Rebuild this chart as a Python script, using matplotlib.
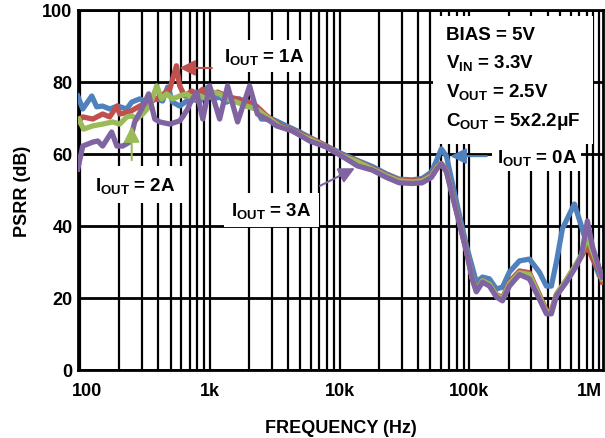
import matplotlib
matplotlib.use("Agg")
import matplotlib.pyplot as plt
import matplotlib.transforms as mtransforms
from matplotlib.ticker import FixedLocator, LogLocator, NullFormatter

plt.rcParams['font.family'] = ['Liberation Sans', 'DejaVu Sans']
plt.rcParams['font.weight'] = 'bold'
plt.rcParams['mathtext.fontset'] = 'custom'
plt.rcParams['mathtext.rm'] = 'Liberation Sans:bold'
plt.rcParams['mathtext.bf'] = 'Liberation Sans:bold'
plt.rcParams['mathtext.it'] = 'Liberation Sans:bold'

# PSRR vs frequency
f_0a = [96.5, 105.5, 123.7, 135, 150, 170, 196, 230, 251, 289, 327, 391, 434, 475, 519,
        588, 665, 740, 837, 965, 1055, 1193, 1350, 1500, 1697, 1920, 2290, 2500, 3030,
        3900, 4920, 6200, 7940, 10500, 14200, 17900, 22900, 28700, 36200, 43300, 51000,
        56400, 60700, 66500, 79400, 94900, 113000, 126000, 142500, 161000, 179500,
        203000, 242500, 289500, 345000, 391000, 427000, 467000, 519000, 642000, 727000,
        767000, 838000, 1000000, 1054000]
db_0a = [76.1, 72.5, 76.1, 73.1, 73.3, 72.5, 73.3, 72.5, 74.4, 75.3, 74.4, 75.3, 74.7,
         78.6, 74.4, 73.3, 74.7, 75.3, 74.4, 78.6, 75.3, 75.8, 74.4, 75.3, 75.3, 73.3,
         72.5, 69.7, 69.7, 67.8, 66.1, 64.2, 62.2, 60.0, 58.0, 56.5, 54.5, 53.0, 52.8,
         53.2, 55.0, 58.6, 61.4, 59.4, 46.7, 34.4, 24.4, 25.8, 25.3, 22.5, 23.0, 27.2,
         30.3, 30.8, 27.2, 23.3, 23.3, 30.0, 39.2, 46.1, 40.0, 37.2, 33.6, 26.1, 25.3]

f_1a = [96.5, 105.5, 125.9, 150, 170, 193, 203, 242, 289, 345, 412, 493, 555, 588, 643,
        728, 794, 885, 1000, 1150, 1350, 1610, 1920, 2290, 2750, 3450, 4330, 5200, 6650,
        8420, 10500, 13400, 17900, 22900, 28700, 36200, 43300, 51000, 56400, 60700,
        66500, 79400, 94900, 105000, 113000, 126000, 142500, 161000, 179500, 203000,
        242500, 289500, 345000, 391000, 427000, 467000, 557000, 666000, 727000, 809000,
        883000, 1000000, 1054000]
db_1a = [68.9, 70.3, 69.7, 71.1, 70.3, 73.3, 71.1, 71.7, 73.3, 74.4, 75.8, 78.0, 84.5,
         78.9, 76.1, 77.5, 76.7, 78.0, 76.1, 77.2, 76.1, 75.3, 74.7, 73.3, 70.6, 68.0,
         66.6, 65.3, 63.6, 61.6, 59.6, 58.2, 56.0, 54.1, 52.8, 52.5, 52.8, 54.2, 56.6,
         57.4, 55.5, 44.5, 33.0, 25.5, 22.0, 24.8, 23.8, 21.0, 20.0, 24.5, 27.5, 27.0,
         21.0, 16.5, 16.5, 21.0, 25.0, 29.5, 31.5, 34.4, 31.0, 27.5, 24.4]

f_2a = [98.2, 107, 125.9, 150, 179, 203, 230, 251, 275, 305, 345, 391, 427, 466, 519,
        588, 665, 740, 837, 950, 1055, 1193, 1350, 1610, 1920, 2290, 2750, 3450, 4330,
        5200, 6650, 8420, 10500, 13400, 17900, 22900, 28700, 36200, 43300, 51000, 56400,
        60700, 66500, 79400, 94900, 105000, 113000, 126000, 142500, 161000, 179500,
        203000, 242500, 289500, 345000, 391000, 427000, 467000, 557000, 666000, 727000,
        809000, 883000, 1000000, 1054000]
db_2a = [69.7, 66.9, 67.8, 68.3, 68.9, 68.3, 70.3, 70.6, 69.7, 71.1, 73.3, 78.9, 75.3,
         76.7, 75.3, 76.1, 76.7, 75.3, 76.1, 75.3, 77.2, 76.7, 75.3, 74.4, 73.3, 72.5,
         70.3, 67.7, 66.4, 65.0, 63.3, 61.4, 59.4, 58.0, 55.8, 53.9, 52.5, 52.2, 52.5,
         53.9, 56.4, 57.2, 55.2, 44.2, 33.0, 25.5, 22.0, 24.8, 23.8, 20.8, 19.7, 24.0,
         27.0, 26.5, 20.5, 16.0, 16.0, 21.0, 25.0, 29.5, 32.0, 37.2, 33.0, 28.0, 25.3]

f_3a = [96.5, 105.5, 125.9, 137.6, 150, 176, 193, 214, 242, 265, 300, 339, 378, 412,
        493, 588, 620, 677, 702, 794, 885, 1000, 1193, 1374, 1640, 2030, 2330, 2900,
        3270, 4330, 5890, 7940, 11300, 13700, 17900, 22900, 28700, 36200, 43300, 51000,
        56400, 60700, 66500, 79400, 94900, 105000, 113000, 126000, 142500, 161000,
        179500, 203000, 242500, 289500, 345000, 391000, 427000, 467000, 557000, 666000,
        727000, 809000, 883000, 1000000, 1054000]
db_3a = [55.8, 62.2, 63.3, 63.6, 62.2, 66.1, 62.2, 62.2, 63.3, 68.9, 72.5, 76.7, 69.7,
         68.9, 68.3, 69.2, 70.3, 72.5, 73.9, 77.2, 69.7, 78.9, 69.7, 78.9, 68.9, 78.9,
         71.1, 69.2, 67.8, 66.4, 63.6, 61.9, 58.6, 56.7, 55.5, 53.5, 52.0, 51.8, 52.0,
         53.5, 56.0, 57.2, 55.0, 43.9, 32.8, 25.3, 21.7, 24.4, 23.3, 20.3, 19.2, 23.3,
         26.5, 25.3, 19.7, 15.6, 15.6, 20.6, 24.4, 28.9, 31.7, 41.4, 34.4, 28.1, 25.8]

blue = '#4F81BD'
red = '#C0504D'
green = '#9BBB59'
purple = '#8064A2'

fig = plt.figure(figsize=(6.05, 4.39), dpi=100)
ax = fig.add_axes([0.129, 0.155, 0.868, 0.82])

for f, db, c in [(f_0a, db_0a, blue), (f_1a, db_1a, red),
                 (f_2a, db_2a, green), (f_3a, db_3a, purple)]:
    ax.plot(f, db, color=c, lw=3.8, solid_joinstyle='round', zorder=3)

ax.set_xscale('log')
ax.set_xlim(97, 1.07e6)
ax.set_ylim(0, 100)
ax.xaxis.set_major_locator(FixedLocator([1e2, 1e3, 1e4, 1e5, 1e6]))
ax.set_xticklabels(['100', '1k', '10k', '100k', '1M'])
ax.xaxis.set_minor_locator(LogLocator(base=10, subs=range(2, 10)))
ax.xaxis.set_minor_formatter(NullFormatter())
ax.set_yticks([0, 20, 40, 60, 80, 100])
ax.tick_params(which='both', length=0, labelsize=13)
ax.tick_params(axis='x', pad=9)
ax.tick_params(axis='y', pad=4)

# nudge the end labels inward like the original
xlabels = ax.get_xticklabels()
xlabels[0].set_transform(xlabels[0].get_transform() +
                         mtransforms.ScaledTranslation(7 / 100, 0, fig.dpi_scale_trans))
xlabels[-1].set_transform(xlabels[-1].get_transform() +
                          mtransforms.ScaledTranslation(-10 / 100, 0, fig.dpi_scale_trans))

ax.grid(axis='x', which='both', color='black', lw=1.6)
ax.grid(axis='y', which='major', color='black', lw=2)
ax.set_axisbelow(True)
for s in ax.spines.values():
    s.set_linewidth(2)

ax.set_xlabel('FREQUENCY (Hz)', fontsize=13, fontweight='bold', labelpad=14)
ax.set_ylabel('PSRR (dB)', fontsize=13, fontweight='bold', labelpad=8)

fs = 13.5
arrow = dict(arrowstyle='-|>', lw=1.5, mutation_scale=24)

ax.text(2650, 87.2, r'I$_{OUT}$ = 1A', fontsize=fs, ha='center', va='center',
        bbox=dict(facecolor='white', edgecolor='none', pad=4), zorder=5)
ax.annotate('', xy=(557, 83.9), xytext=(1092, 83.9),
            arrowprops=dict(arrow, color=red), zorder=6)

ax.text(265, 51.5, r'I$_{OUT}$ = 2A', fontsize=fs, ha='center', va='center',
        bbox=dict(facecolor='white', edgecolor='none', pad=6), zorder=5)
ax.annotate('', xy=(251, 68.5), xytext=(251, 57.5),
            arrowprops=dict(arrow, color=green), zorder=6)

ax.text(3000, 44.5, r'I$_{OUT}$ = 3A', fontsize=fs, ha='center', va='center',
        bbox=dict(facecolor='white', edgecolor='none', pad=5), zorder=5)
ax.annotate('', xy=(13700, 56.4), xytext=(6770, 50.8),
            arrowprops=dict(arrow, color=purple), zorder=6)

ax.text(330000, 59.2, r'I$_{OUT}$ = 0A', fontsize=fs, ha='center', va='center',
        bbox=dict(facecolor='white', edgecolor='none', pad=3), zorder=5)
ax.annotate('', xy=(67700, 59.4), xytext=(142600, 59.4),
            arrowprops=dict(arrow, color=blue), zorder=6)

cond = 'BIAS = 5V\nV$_{IN}$ = 3.3V\nV$_{OUT}$ = 2.5V\nC$_{OUT}$ = 5x2.2μF'
ax.text(66000, 95.5, cond, fontsize=fs, ha='left', va='top', linespacing=1.6,
        bbox=dict(facecolor='white', edgecolor='none', pad=9), zorder=5)

fig.savefig('out.png', dpi=100)
